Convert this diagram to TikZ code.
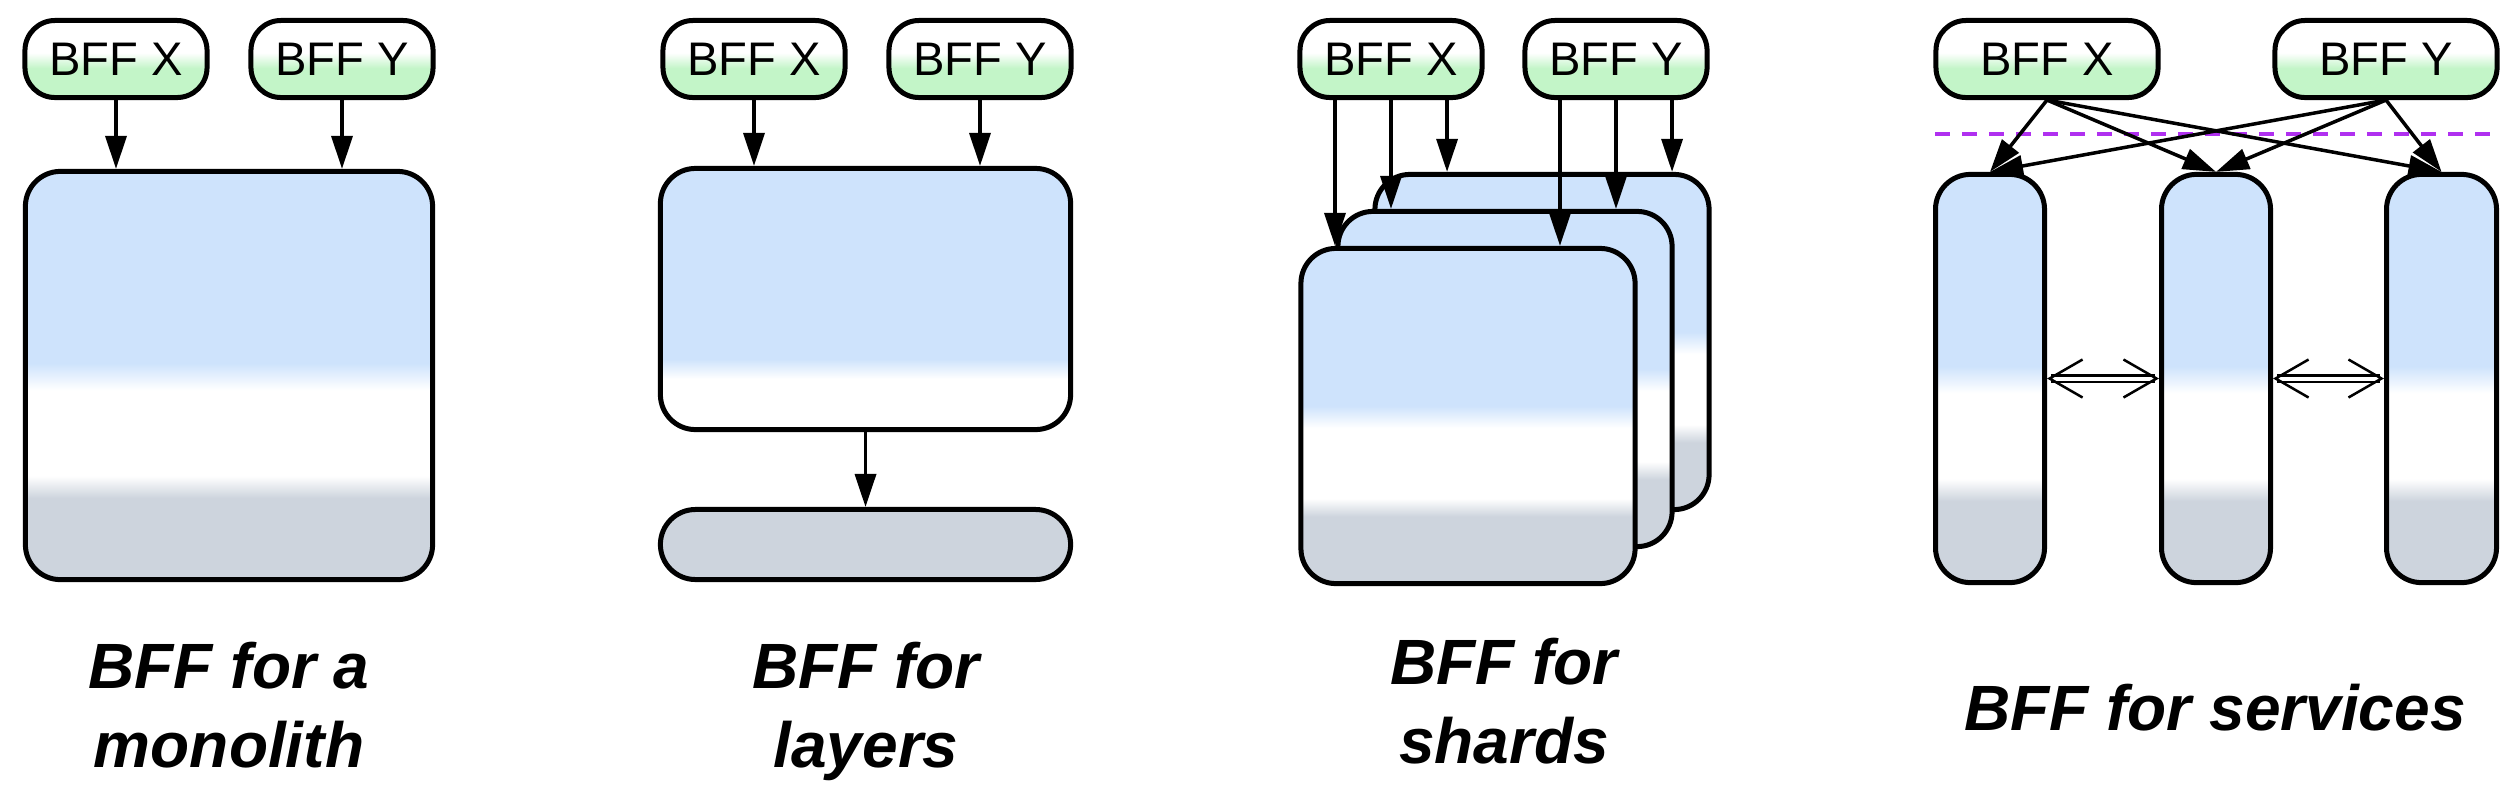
\documentclass[tikz,border=0pt]{standalone}
\usepackage{fontspec}
\setmainfont{Liberation Sans}
\usetikzlibrary{arrows.meta,shapes}
\definecolor{BoxBlue}{HTML}{CEE3FC}
\definecolor{BoxGrey}{HTML}{CDD4DD}
\definecolor{PillGreen}{HTML}{C3F5C8}
\definecolor{CutPurple}{HTML}{B030F0}
\pgfdeclareverticalshading{pillshade}{100bp}{color(0bp)=(PillGreen); color(44bp)=(PillGreen); color(54bp)=(white); color(100bp)=(white)}
\pgfdeclareverticalshading{boxshade}{100bp}{color(0bp)=(BoxGrey); color(35bp)=(BoxGrey); color(37.7bp)=(white); color(48.2bp)=(white); color(51.5bp)=(BoxBlue); color(100bp)=(BoxBlue)}
\pgfdeclareverticalshading{layershade}{100bp}{color(0bp)=(white); color(34.7bp)=(white); color(38.5bp)=(BoxBlue); color(100bp)=(BoxBlue)}
\tikzset{
    bff/.style = {draw, line width=0.05cm, rounded corners=0.3cm,
        shading=pillshade,
        minimum width=1.82cm,
        minimum height=0.77cm, inner sep=0pt,
        font=\fontsize{13.4}{16}\selectfont},
    bffwide/.style = {bff, minimum width=2.22cm},
    tier/.style = {draw, line width=0.05cm, rounded corners=0.35cm, shading=boxshade, inner sep=0pt},
    store/.style = {draw, line width=0.05cm, rounded corners=0.35cm, fill=BoxGrey, inner sep=0pt},
    arr/.style = {draw, line width=0.035cm, -{Triangle[length=0.33cm,width=0.21cm]}},
    sync/.style = {double, double distance=0.04cm, line width=0.025cm,
        {Straight Barb[length=0.33cm,width=0.38cm,line width=0.025cm]}-{Straight Barb[length=0.33cm,width=0.38cm,line width=0.025cm]}},
    cut/.style = {draw=CutPurple, line width=0.04cm, dash pattern=on 0.15cm off 0.12cm},
    lbl/.style = {font=\fontsize{18.2}{22.5}\selectfont\bfseries\itshape, align=center, inner sep=0pt}
}

\begin{document}
\begin{tikzpicture}[x=0.01cm,y=-0.01cm]
    \useasboundingbox (0,0) rectangle (2516,784);
    % monolith
    \node [bff] (x1) at (116,59) {BFF X};
    \node [bff] (y1) at (342,59) {BFF Y};
    \node [tier, minimum width=4.07cm, minimum height=4.08cm] (mono) at (229,375.5) {};
    \draw [arr] (x1.south) -- (x1.south |- mono.north);
    \draw [arr] (y1.south) -- (y1.south |- mono.north);
    \node [lbl, anchor=north] (l1) at (229,641) {BFF for a\\monolith};
    % layers
    \node [bff] (x2) at (754,59) {BFF X};
    \node [bff] (y2) at (980,59) {BFF Y};
    \node [tier, shading=layershade, minimum width=4.10cm, minimum height=2.61cm] (api) at (865.5,299) {};
    \node [store, minimum width=4.10cm, minimum height=0.70cm] (data) at (865.5,544.5) {};
    \draw [arr] (x2.south) -- (x2.south |- api.north);
    \draw [arr] (y2.south) -- (y2.south |- api.north);
    \draw [arr] (api.south) -- (data.north);
    \node [lbl, anchor=north] (l2) at (866,641) {BFF for\\layers};
    % shards
    \node [bff] (x3) at (1391,59) {BFF X};
    \node [bff] (y3) at (1616,59) {BFF Y};
    \node [tier, minimum width=3.34cm, minimum height=3.35cm] (shardc) at (1542,342) {};
    \node [tier, minimum width=3.34cm, minimum height=3.35cm] (shardb) at (1505,379) {};
    \node [tier, minimum width=3.34cm, minimum height=3.35cm] (sharda) at (1468,416) {};
    \coordinate (x3a) at ([xshift=-0.56cm]x3.south);
    \coordinate (x3c) at ([xshift=0.56cm]x3.south);
    \coordinate (y3a) at ([xshift=-0.56cm]y3.south);
    \coordinate (y3c) at ([xshift=0.56cm]y3.south);
    \draw [arr] (x3a) -- (x3a |- sharda.north);
    \draw [arr] (x3.south) -- (x3.south |- shardb.north);
    \draw [arr] (x3c) -- (x3c |- shardc.north);
    \draw [arr] (y3a) -- (y3a |- sharda.north);
    \draw [arr] (y3.south) -- (y3.south |- shardb.north);
    \draw [arr] (y3c) -- (y3c |- shardc.north);
    \node [lbl, anchor=north] (l3) at (1504,637) {BFF for\\shards};
    % services
    \node [bffwide] (x4) at (2047,59) {BFF X};
    \node [bffwide] (y4) at (2386,59) {BFF Y};
    \node [tier, minimum width=1.09cm, minimum height=4.08cm] (svc1) at (1990,378.5) {};
    \node [tier, minimum width=1.09cm, minimum height=4.08cm] (svc2) at (2216,378.5) {};
    \node [tier, minimum width=1.10cm, minimum height=4.08cm] (svc3) at (2441.5,378.5) {};
    \coordinate (cutl) at (1935,134);
    \coordinate (cutr) at (2497,134);
    \draw [cut] (cutl) -- (cutr);
    \foreach \s in {svc1,svc2,svc3} {
        \draw [arr] (x4.south) -- (\s.north);
        \draw [arr] (y4.south) -- (\s.north);
    }
    \draw [sync] (svc1.east) -- (svc2.west);
    \draw [sync] (svc2.east) -- (svc3.west);
    \node [lbl, anchor=base] (l4) at (2215,730) {BFF for services};
\end{tikzpicture}
\end{document}
